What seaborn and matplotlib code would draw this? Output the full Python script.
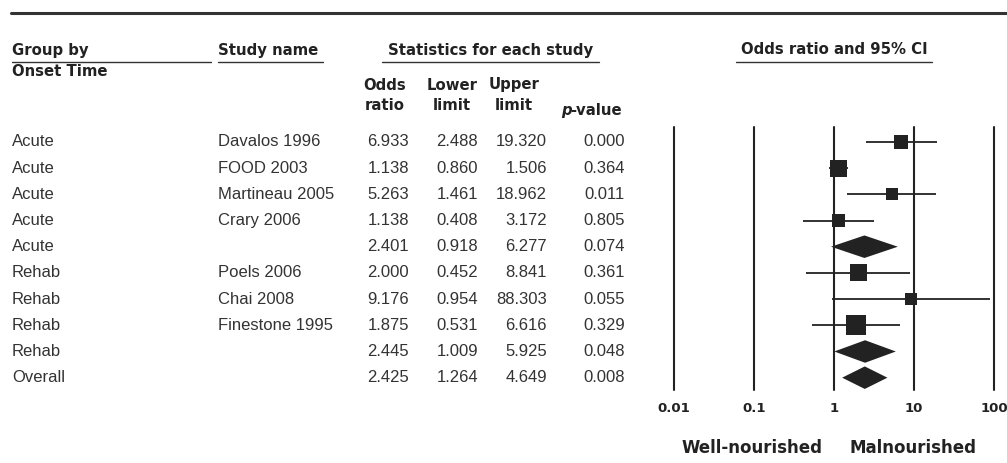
import matplotlib
matplotlib.use("Agg")
import matplotlib.pyplot as plt
import matplotlib.transforms as mtransforms
from matplotlib.lines import Line2D
import numpy as np
import pandas as pd
import seaborn as sns

# data ..................................................................
groups = ["Acute", "Acute", "Acute", "Acute", "Acute",
          "Rehab", "Rehab", "Rehab", "Rehab", "Overall"]
studies = ["Davalos 1996", "FOOD 2003", "Martineau 2005", "Crary 2006", "",
           "Poels 2006", "Chai 2008", "Finestone 1995", "", ""]
odds = [6.933, 1.138, 5.263, 1.138, 2.401, 2.000, 9.176, 1.875, 2.445, 2.425]
lower = [2.488, 0.860, 1.461, 0.408, 0.918, 0.452, 0.954, 0.531, 1.009, 1.264]
upper = [19.320, 1.506, 18.962, 3.172, 6.277, 8.841, 88.303, 6.616, 5.925, 4.649]
pvals = [0.000, 0.364, 0.011, 0.805, 0.074, 0.361, 0.055, 0.329, 0.048, 0.008]
# relative study weight (box size), None for summary rows
weights = [14, 17, 12, 13, None, 17, 12, 20, None, None]
xticks = [0.01, 0.1, 1, 10, 100]
xtick_labels = ["0.01", "0.1", "1", "10", "100"]

df = pd.DataFrame(dict(group=groups, study=studies, odds=odds, lower=lower,
                       upper=upper, p=pvals, weight=weights))
df["row"] = np.arange(len(df))
is_study = df["study"] != ""

# figure ................................................................
sns.set_theme(style="white")
plt.rcParams["font.family"] = ["Liberation Sans", "DejaVu Sans"]

W, H = 1007, 463
fig = plt.figure(figsize=(W / 100, H / 100), dpi=100, facecolor="white")


def fx(px):
    return px / W


def fy(py):
    return 1 - py / H


ax = fig.add_axes([fx(674), fy(390), fx(994) - fx(674), fy(127) - fy(390)])
ax.set_xscale("log")
ax.set_xlim(0.01, 100)
ax.set_ylim(9.47, -0.57)

# reference lines
for t in xticks:
    ax.axvline(t, color="#222222", lw=1.5, zorder=1, clip_on=False)

# confidence intervals of single studies
studies_df = df[is_study]
ax.hlines(studies_df["row"], studies_df["lower"], studies_df["upper"],
          color="#222222", lw=1.3, zorder=2)

# boxes
sns.scatterplot(x=studies_df["odds"], y=studies_df["row"], marker="s",
                s=(studies_df["weight"].astype(float) * 0.72) ** 2,
                color="#222222", linewidth=0, ax=ax, zorder=3, legend=False)

# diamonds for the summaries
for _, r in df[~is_study].iterrows():
    h = 0.43
    ax.fill([r["lower"], r["odds"], r["upper"], r["odds"]],
            [r["row"], r["row"] - h, r["row"], r["row"] + h],
            color="#222222", lw=0, zorder=3)

ax.set_xticks(xticks)
ax.set_xticklabels(xtick_labels, family="DejaVu Sans", weight="bold", fontsize=9.5)
ax.minorticks_off()
ax.tick_params(axis="x", length=0, pad=9, colors="#222222")
ax.set_yticks([])
ax.set_xlabel("")
ax.set_ylabel("")
sns.despine(ax=ax, left=True, bottom=True)
ax.patch.set_alpha(0)

# table text ............................................................
trans = mtransforms.blended_transform_factory(fig.transFigure, ax.transData)
txt = dict(fontsize=12, color="#333333", va="center", transform=trans)
for _, r in df.iterrows():
    y = r["row"]
    ax.text(fx(12), y, r["group"], ha="left", clip_on=False, **txt)
    ax.text(fx(218), y, r["study"], ha="left", clip_on=False, **txt)
    ax.text(fx(409), y, f"{r['odds']:.3f}", ha="right", clip_on=False, **txt)
    ax.text(fx(478), y, f"{r['lower']:.3f}", ha="right", clip_on=False, **txt)
    ax.text(fx(547), y, f"{r['upper']:.3f}", ha="right", clip_on=False, **txt)
    ax.text(fx(625), y, f"{r['p']:.3f}", ha="right", clip_on=False, **txt)

# headers ...............................................................
hdr = dict(family="DejaVu Sans", weight="bold", fontsize=10.7, color="#222222",
           va="center")
fig.text(fx(12), fy(50), "Group by", ha="left", **hdr)
fig.text(fx(12), fy(72), "Onset Time", ha="left", **hdr)
fig.text(fx(218), fy(50), "Study name", ha="left", **hdr)
fig.text(fx(491), fy(50), "Statistics for each study", ha="center", **hdr)
fig.text(fx(834), fy(50), "Odds ratio and 95% CI", ha="center", **hdr)

fig.text(fx(385), fy(85), "Odds", ha="center", **hdr)
fig.text(fx(385), fy(105), "ratio", ha="center", **hdr)
fig.text(fx(452), fy(85), "Lower", ha="center", **hdr)
fig.text(fx(452), fy(105), "limit", ha="center", **hdr)
fig.text(fx(514), fy(85), "Upper", ha="center", **hdr)
fig.text(fx(514), fy(105), "limit", ha="center", **hdr)
fig.text(fx(561), fy(110), "p", ha="left", style="italic", **hdr)
fig.text(fx(570), fy(110), "-value", ha="left", **hdr)

# horizontal rules
rules = [(11, 1007, 13, 2.2), (12, 211, 62, 1.0), (218, 323, 62, 1.0),
         (382, 599, 62, 1.0), (736, 932, 62, 1.0)]
for x0, x1, y, lw in rules:
    fig.add_artist(Line2D([fx(x0), fx(x1)], [fy(y), fy(y)], color="#333333",
                          lw=lw, transform=fig.transFigure))

# favours labels
fav = dict(family="DejaVu Sans", weight="bold", fontsize=12, color="#222222",
           va="center", ha="center")
fig.text(fx(752), fy(448), "Well-nourished", **fav)
fig.text(fx(913), fy(448), "Malnourished", **fav)

fig.savefig("out.png", dpi=100, facecolor="white")
